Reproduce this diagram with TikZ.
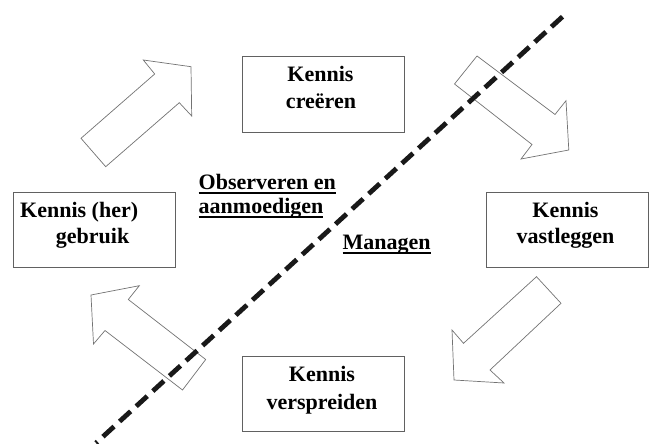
\documentclass[tikz,border=0pt]{standalone}
\usepackage{fontspec}
\newfontfamily\tnr{Liberation Serif}
\newcommand\myul[1]{\leavevmode\setbox0\hbox{#1}\rlap{\rule[-4.2pt]{\wd0}{1.8pt}}\box0}
\begin{document}
\begin{tikzpicture}[x=1pt,y=-1pt,
  box/.style={draw=black!62,line width=1pt,rectangle,inner sep=0pt},
  lbl/.style={anchor=base,inner sep=0pt,text=black,font=\tnr\bfseries\fontsize{22}{26}\selectfont},
  blockarrow/.style={draw=black!55,line width=0.7pt,line join=miter,fill=white},
  divider/.style={line width=4.8pt,dash pattern=on 15pt off 7.5pt,black!90}]
\useasboundingbox (0,0) rectangle (651,444);
% boxes
\node[box,minimum width=162pt,minimum height=75pt] (bcre) at (323.5,94.5) {};
\node[box,minimum width=162pt,minimum height=75pt] (bgeb) at (94,229.5) {};
\node[box,minimum width=162pt,minimum height=75pt] (bvas) at (567.5,229.5) {};
\node[box,minimum width=162pt,minimum height=75pt] (bver) at (323.5,394) {};
% box texts
\node[lbl] (t1a) at (320.5,81.7) {Kennis};
\node[lbl] (t1b) at (321,108.3) {creëren};
\node[lbl,anchor=base west] (t2a) at (20,217.3) {Kennis (her)};
\node[lbl,anchor=base west] (t2b) at (55.7,243.5) {gebruik};
\node[lbl] (t3a) at (565.5,217.3) {Kennis};
\node[lbl] (t3b) at (565.5,243.5) {vastleggen};
\node[lbl] (t4a) at (322,381.7) {Kennis};
\node[lbl] (t4b) at (322,409.3) {verspreiden};
% free labels
\node[lbl,anchor=base west] (obs) at (198.5,189.3) {\myul{Observeren en}};
\node[lbl,anchor=base west] (aan) at (198.5,213.3) {\myul{aanmoedigen}};
\node[lbl,anchor=base west] (man) at (342.3,249.3) {\myul{Managen}};
% block arrows
\draw[blockarrow] (81,138.3) -- (154.7,74) -- (143.3,60) -- (191,66.7) -- (191.7,116) -- (179.3,102.7) -- (105.7,166.7) -- cycle;
\draw[blockarrow] (477,56) -- (555,114.5) -- (566,100.7) -- (568.8,150) -- (521,159) -- (532,144.5) -- (454.5,84) -- cycle;
\draw[blockarrow] (536.5,276.7) -- (561,303.3) -- (490,370) -- (504,383) -- (454,380) -- (452,330) -- (463.5,343.3) -- cycle;
\draw[blockarrow] (91,295) -- (139.3,285.7) -- (128.3,299.5) -- (205.7,359.5) -- (182.5,390) -- (105,330.5) -- (93.5,344) -- cycle;
% dashed divider
\coordinate (dtop) at (562.5,16.7);
\coordinate (dbot) at (96,443);
\draw[divider] (dtop) -- (dbot);
\end{tikzpicture}
\end{document}
